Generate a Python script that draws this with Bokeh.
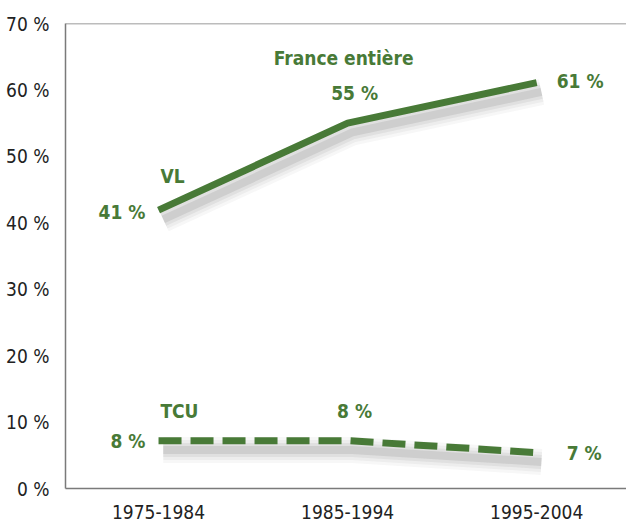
from bokeh.plotting import figure
from bokeh.models import Range1d, FixedTicker, Span
from bokeh.core.properties import value
from bokeh.embed import file_html
from bokeh.resources import INLINE

periods = ["1975-1984", "1985-1994", "1995-2004"]
vl_values = [41.9, 55.0, 61.1]
tcu_values = [7.2, 7.2, 5.4]
vl_labels = ["41 %", "55 %", "61 %"]
tcu_labels = ["8 %", "8 %", "7 %"]
y_ticks = [0, 10, 20, 30, 40, 50, 60, 70]
y_tick_labels = ["0 %", "10 %", "20 %", "30 %", "40 %", "50 %", "60 %", "70 %"]

GREEN = "#487a37"
FONT = "'DejaVu Sans Condensed', Roboto, sans-serif"

xs = [i + 0.5 for i in range(len(periods))]

p = figure(width=626, height=523, output_backend="svg", toolbar_location=None,
           x_range=Range1d(0.008, 2.975), y_range=Range1d(0, 70),
           min_border_left=65, min_border_right=0, min_border_top=23, min_border_bottom=35)
p.outline_line_color = None
p.grid.grid_line_color = None

p.yaxis.ticker = FixedTicker(ticks=y_ticks)
p.yaxis.major_label_overrides = {t: l for t, l in zip(y_ticks, y_tick_labels)}
p.xaxis.ticker = FixedTicker(ticks=xs)
p.xaxis.major_label_overrides = {x: l for x, l in zip(xs, periods)}
for ax in (p.xaxis, p.yaxis):
    ax.axis_line_color = "#7a7a7a"
    ax.axis_line_width = 1.5
    ax.major_tick_line_color = None
    ax.minor_tick_line_color = None
    ax.major_label_text_font = FONT
    ax.major_label_text_font_size = "19px"
    ax.major_label_text_color = "#222222"
p.yaxis.major_label_standoff = 10
p.xaxis.major_label_standoff = 10

p.add_layout(Span(location=70, dimension="width", line_color="#7a7a7a", line_width=1.5))

# soft shadows under the lines
for w, a in [(26, 0.04), (20, 0.05), (14, 0.07), (8, 0.10)]:
    p.line([x + 0.025 for x in xs], [v - 1.4 for v in vl_values], line_color="#333333", line_width=w, line_alpha=a)
    p.line([x + 0.025 for x in xs], [v - 1.4 for v in tcu_values], line_color="#333333", line_width=w, line_alpha=a)

p.line(xs, vl_values, line_color=GREEN, line_width=7)
p.line(xs, tcu_values, line_color=GREEN, line_width=7, line_dash="23 9")

def lbl(x, y, t, align="center"):
    p.text([x], [y], text=[t], text_font=value(FONT), text_font_style="bold",
           text_font_size="19px", text_color=GREEN, text_align=align, text_baseline="middle")

lbl(0.431, 41.6, vl_labels[0], "right")
lbl(1.537, 59.5, vl_labels[1])
lbl(2.606, 61.4, vl_labels[2], "left")
lbl(0.51, 47.0, "VL", "left")
lbl(1.479, 64.8, "France entière")
lbl(0.431, 7.2, tcu_labels[0], "right")
lbl(1.537, 11.7, tcu_labels[1])
lbl(2.659, 5.3, tcu_labels[2], "left")
lbl(0.51, 11.7, "TCU", "left")

open("out.html", "w").write(file_html(p, INLINE))
